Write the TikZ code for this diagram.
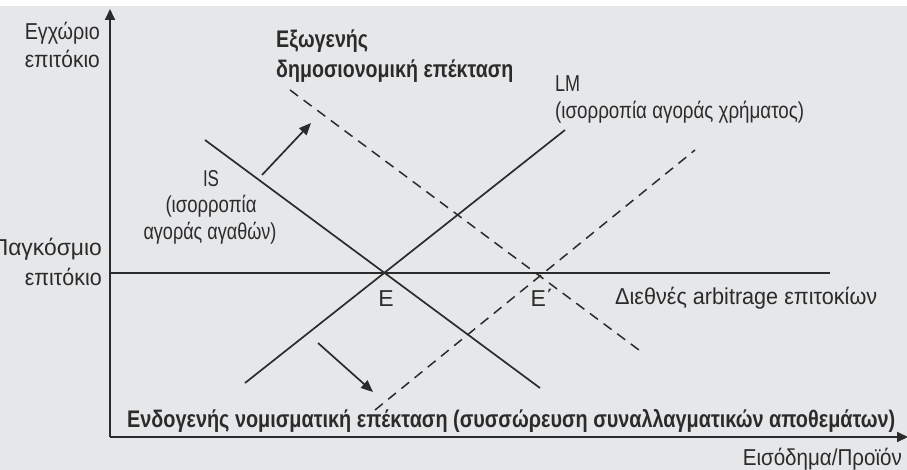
\documentclass[tikz,border=0pt]{standalone}
\usepackage{graphicx}
\usepackage{fontspec}
\setmainfont{Liberation Sans}
\usetikzlibrary{arrows.meta}
\newlength\fitlen
\newcommand\fitw[2]{\settowidth\fitlen{#2}\scalebox{\fpeval{#1/\fitlen}}[1]{#2}}
\definecolor{bg}{HTML}{E6E7E9}
\definecolor{ink}{HTML}{2B2B2B}
\tikzset{
  axisline/.style={draw=ink, line width=1.9pt, -{Triangle[length=11pt,width=10pt]}},
  curve/.style={draw=ink, line width=1.7pt},
  dcurve/.style={draw=ink, line width=1.5pt, dash pattern=on 10pt off 7pt},
  shiftarrow/.style={draw=ink, line width=1.7pt, -{Triangle[length=12pt,width=10pt]}},
  lbl/.style={font=\fontsize{23}{26}\selectfont, text=ink, inner sep=0pt},
  blbl/.style={font=\fontsize{24}{27}\selectfont\bfseries, text=ink, inner sep=0pt},
}
\begin{document}
\begin{tikzpicture}[x=1pt,y=-1pt]
\useasboundingbox (0,0) rectangle (907,470);
\clip (0,0) rectangle (907,470);
\fill[bg] (0,6) rectangle (907,470);
% axes
\coordinate (O) at (110,437);
\coordinate (Ytop) at (110,9);
\coordinate (Xend) at (908,437);
\draw[axisline] (O) -- (Ytop);
\draw[axisline] (O) -- (Xend);
% world interest rate line
\coordinate (W0) at (110,273);
\coordinate (W1) at (830,273);
\draw[curve, line width=1.9pt] (W0) -- (W1);
% IS
\coordinate (IS0) at (205,140);
\coordinate (IS1) at (540,388);
\draw[curve] (IS0) -- (IS1);
% LM
\coordinate (LM0) at (245,383);
\coordinate (LM1) at (565,130);
\draw[curve] (LM0) -- (LM1);
% IS'
\coordinate (ISd0) at (290,90);
\coordinate (ISd1) at (639,350);
\draw[dcurve] (ISd0) -- (ISd1);
% LM'
\coordinate (LMd0) at (375,410);
\coordinate (LMd1) at (695,150);
\draw[dcurve] (LMd0) -- (LMd1);
% shift arrows
\coordinate (A0) at (262,175);
\coordinate (A1) at (311,123);
\draw[shiftarrow] (A0) -- (A1);
\coordinate (B0) at (318,343);
\coordinate (B1) at (373,392);
\draw[shiftarrow] (B0) -- (B1);
% labels
\node[lbl, anchor=base east] (ylab1) at (100,40) {\fitw{75}{Εγχώριο}};
\node[lbl, anchor=base east] (ylab2) at (100,68) {\fitw{75}{επιτόκιο}};
\node[lbl, anchor=base east] (wlab1) at (102,255) {\fitw{110}{Παγκόσμιο}};
\node[lbl, anchor=base east] (wlab2) at (102,285) {\fitw{77}{επιτόκιο}};
\node[blbl, anchor=base west] (fis1) at (276,48) {\fitw{92}{Εξωγενής}};
\node[blbl, anchor=base west] (fis2) at (276,78) {\fitw{237}{δημοσιονομική επέκταση}};
\node[lbl, anchor=base west] (lm1) at (555,92) {\fitw{25}{LM}};
\node[lbl, anchor=base west] (lm2) at (555,119) {\fitw{249}{(ισορροπία αγοράς χρήματος)}};
\node[lbl, anchor=base] (is1) at (211,187) {\fitw{16}{IS}};
\node[lbl, anchor=base] (is2) at (211,213) {\fitw{91}{(ισορροπία}};
\node[lbl, anchor=base] (is3) at (210,240) {\fitw{133}{αγοράς αγαθών)}};
\node[lbl, anchor=base] (E) at (386,306) {E};
\node[lbl, anchor=base] (Ep) at (542,306) {E΄};
\node[lbl, anchor=base west] (arb) at (615,305) {\fitw{262}{Διεθνές arbitrage επιτοκίων}};
\node[blbl, anchor=base west] (mon) at (127,427) {\fitw{768}{Ενδογενής νομισματική επέκταση (συσσώρευση συναλλαγματικών αποθεμάτων)}};
\node[lbl, anchor=base east] (xlab) at (902,465) {\fitw{159}{Εισόδημα/Προϊόν}};
\end{tikzpicture}
\end{document}
